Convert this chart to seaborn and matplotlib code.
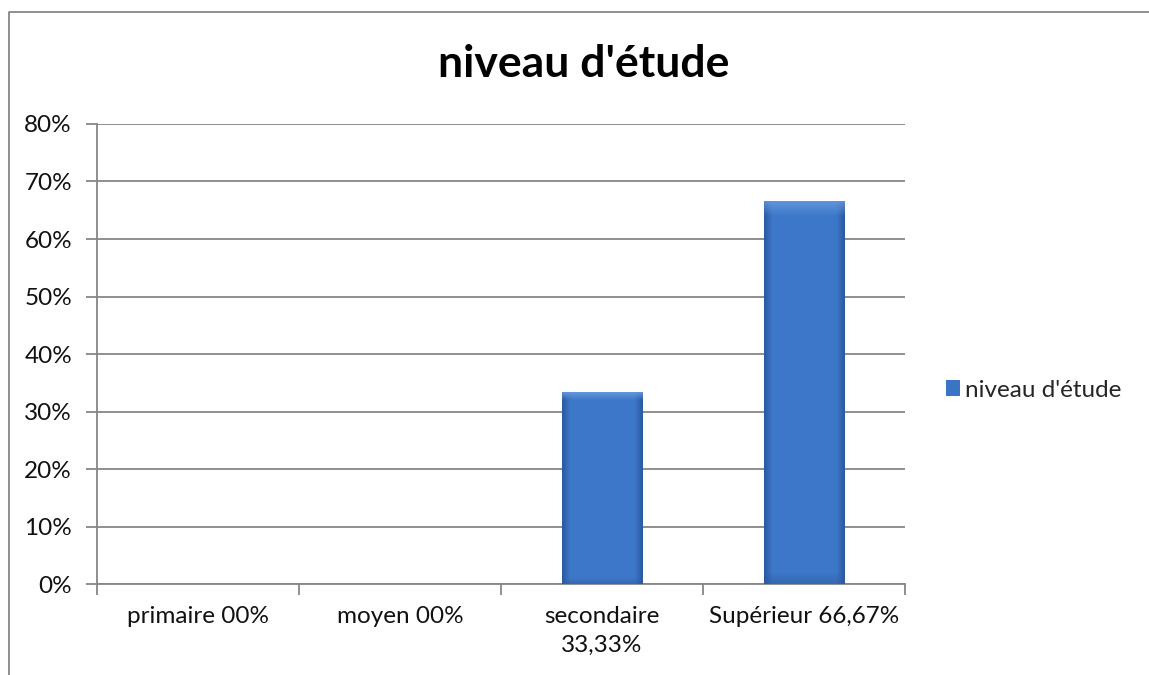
import numpy as np
import pandas as pd
import seaborn as sns
import matplotlib.pyplot as plt
from matplotlib.lines import Line2D

# data
categories = ['primaire 00%', 'moyen 00%', 'secondaire\n33,33%', 'Supérieur 66,67%']
values = [0.0, 0.0, 33.33, 66.67]
serie = "niveau d'étude"
yticks = [0, 10, 20, 30, 40, 50, 60, 70, 80]

df = pd.DataFrame({'cat': categories, 'val': values, 'serie': serie})

sns.set_theme(style='white')
plt.rcParams['font.family'] = ['Lato', 'DejaVu Sans']

fig = plt.figure(figsize=(11.49, 6.75), dpi=100)
ax = fig.add_axes([0.0844, 0.1348, 0.7032, 0.6815])

grey = '#868686'
fs = 17.5
sns.barplot(data=df, x='cat', y='val', hue='serie', palette=['#3a75c4'],
            width=0.4, edgecolor='none', linewidth=0, ax=ax, zorder=3)

# bevelled look: gradient image clipped to each bar
def bevel_img(h=200, w=100):
    base = np.array([0.24, 0.47, 0.79])
    dark = np.array([0.17, 0.35, 0.63])
    light = np.array([0.42, 0.62, 0.88])
    xs = np.linspace(0, 1, w)
    ys = np.linspace(0, 1, h)[:, None]
    edge = np.clip(1 - np.minimum(xs, 1 - xs) / 0.1, 0, 1)[None, :]
    img = base[None, None, :] * (1 - edge[..., None]) + dark[None, None, :] * edge[..., None]
    img = np.repeat(img, h, axis=0)
    top = np.clip(1 - ys / 0.04, 0, 1)
    img = img * (1 - top[..., None] * 0.8) + light[None, None, :] * top[..., None] * 0.8
    bot = np.clip((ys - 0.97) / 0.03, 0, 1)
    img = img * (1 - bot[..., None] * 0.5) + dark[None, None, :] * bot[..., None] * 0.5
    return img

for p in ax.patches:
    hgt = p.get_height()
    if hgt <= 0:
        p.set_visible(False)
        continue
    x0, w = p.get_x(), p.get_width()
    npx = int(hgt * 6)
    im = ax.imshow(bevel_img(h=max(npx, 50)), extent=[x0, x0 + w, 0, hgt],
                   aspect='auto', origin='upper', zorder=3, interpolation='bilinear')
    im.set_clip_path(p)
    p.set_facecolor('none')

ax.set_ylim(0, 80)
ax.set_xlim(-0.5, 3.5)
ax.set_yticks(yticks)
ax.set_yticklabels([f'{v}%' for v in yticks])
ax.yaxis.grid(True, color=grey, linewidth=1.3)
ax.set_axisbelow(True)

# category boundaries as major ticks, names on minor ticks
ax.set_xticks([-0.5, 0.5, 1.5, 2.5, 3.5])
ax.set_xticklabels([])
ax.set_xticks(range(len(categories)), minor=True)
ax.set_xticklabels(categories, minor=True, va='top', ha='center',
                   fontsize=fs, color='#111111', linespacing=1.45)
ax.tick_params(axis='x', which='major', length=8, width=1.3, color=grey, direction='out', bottom=True)
ax.tick_params(axis='x', which='minor', length=0, pad=16)
ax.tick_params(axis='y', length=8, width=1.3, color=grey, direction='out', left=True,
               labelsize=fs, labelcolor='#111111', pad=10)

for s in ['top', 'right']:
    ax.spines[s].set_visible(False)
for s in ['left', 'bottom']:
    ax.spines[s].set_color(grey)
    ax.spines[s].set_linewidth(1.3)

ax.set_xlabel('')
ax.set_ylabel('')

fig.text(0.508, 0.905, "niveau d'étude", ha='center', va='center',
         fontsize=32, fontweight='bold', color='#000000')

sns.move_legend(ax, loc='center left', bbox_to_anchor=(0.823, 0.422),
                bbox_transform=fig.transFigure, frameon=False, title=None,
                fontsize=fs, handlelength=0.6, handleheight=0.6,
                handletextpad=0.2, borderaxespad=0, borderpad=0)
for h in ax.get_legend().legend_handles:
    h.set_facecolor('#3a75c4')
    h.set_edgecolor('#2a5a9c')

# outer chart frame
fig.add_artist(Line2D([9 / 1149, 9 / 1149, 1.0], [0.0, 1 - 12 / 675, 1 - 12 / 675],
                      transform=fig.transFigure, color=grey, linewidth=1.3))

fig.savefig('out.png', dpi=100)
